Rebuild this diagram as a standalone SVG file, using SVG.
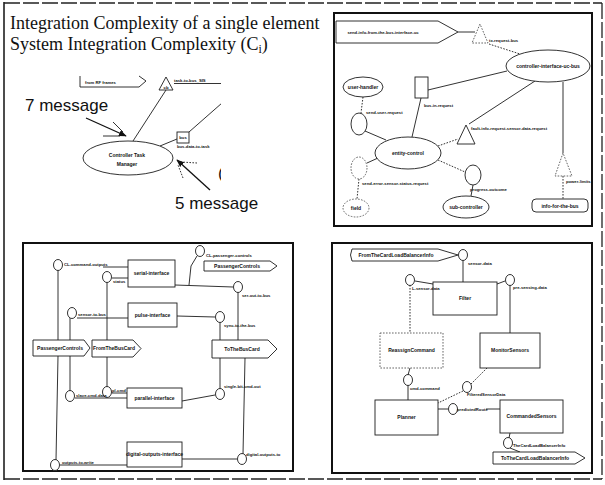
<svg xmlns="http://www.w3.org/2000/svg" width="605" height="485" viewBox="0 0 605 485">
  <defs>
    <style>
      .ln { stroke:#1c1c1c; stroke-width:0.9; fill:none; }
      .dt { stroke-dasharray:1.6 1.4; }
      .nd { fill:#fff; stroke:#1c1c1c; stroke-width:0.9; }
      .nd-dt { fill:#fff; stroke:#555; stroke-width:0.9; stroke-dasharray:1.6 1.4; }
      .frame { fill:none; stroke:#111; stroke-width:2; }
      .border { fill:none; stroke:#222; stroke-width:1.3; stroke-dasharray:16 3; }
      .lb { font-family:"Liberation Sans", Arial, sans-serif; font-size:4.2px; font-weight:bold; fill:#111; }
      .nm { font-family:"Liberation Sans", Arial, sans-serif; font-size:5px; font-weight:bold; fill:#111; text-anchor:middle; }
      .title { font-family:"Liberation Serif", "Times New Roman", serif; font-size:18px; fill:#111; }
      .msg { font-family:"Liberation Sans", Arial, sans-serif; font-size:17px; fill:#111; }
      .arw { stroke:#111; stroke-width:1.3; fill:none; }
    </style>
    <marker id="head" viewBox="0 0 10 10" refX="9" refY="5" markerWidth="6" markerHeight="6" orient="auto">
      <path d="M0,1 L10,5 L0,9 Z" fill="#111"/>
    </marker>
    <clipPath id="clipTL">
      <rect x="0" y="55" width="221" height="170"/>
    </clipPath>
  </defs>

  <!-- page border -->
  <g id="page-border">
    <line x1="4" y1="2" x2="4" y2="480" stroke="#111" stroke-width="1.5"/>
    <line class="border" x1="4" y1="3" x2="602" y2="3"/>
    <line class="border" x1="602" y1="3" x2="602" y2="479"/>
    <line class="border" x1="4" y1="479" x2="602" y2="479"/>
  </g>

  <!-- heading -->
  <g id="heading">
    <text class="title" x="10" y="29">Integration Complexity of a single element</text>
    <text class="title" x="10" y="50">System Integration Complexity  (C<tspan font-size="12" dy="3">i</tspan><tspan dy="-3">)</tspan></text>
  </g>

  <!-- ===== single element view ===== -->
  <g id="single-element" clip-path="url(#clipTL)">
    <g id="tl-connectors">
      <line class="ln" x1="166" y1="90" x2="133" y2="141"/>
      <line class="ln" x1="160" y1="146" x2="177" y2="139"/>
      <line class="ln" x1="189" y1="132" x2="222" y2="103"/>
      <line class="ln" x1="174" y1="83.5" x2="222" y2="83.5"/>
    </g>
    <g id="from-rf-frames">
      <polyline class="ln" points="80,76 80,87 139,87 146,81 139,76"/>
      <text class="lb" x="85" y="83.5">from RF frames</text>
    </g>
    <g id="task-to-bus">
      <polygon class="nd" points="166,77 159,90 173,90"/>
      <text class="lb" x="166" y="88.5" text-anchor="middle" font-size="3.5">cb</text>
      <text class="lb" x="174" y="82">task-to-bus_SIS</text>
    </g>
    <g id="bus-data">
      <rect class="nd" x="177" y="132" width="12" height="11"/>
      <text class="lb" x="183" y="139" text-anchor="middle" font-size="3.5">bus</text>
      <text class="lb" x="177" y="148">bus-data-to-task</text>
    </g>
    <g id="controller-task-manager">
      <ellipse class="nd" cx="128" cy="158" rx="45" ry="17"/>
      <text class="nm" x="127" y="157">Controller Task</text>
      <text class="nm" x="127" y="166">Manager</text>
    </g>
    <text class="msg" x="218" y="179" font-size="9">(</text>
  </g>

  <g id="message-notes">
    <text class="msg" x="25" y="111">7 message</text>
    <line class="arw" x1="86" y1="118" x2="126" y2="136" marker-end="url(#head)"/>
    <line class="ln" x1="113" y1="122" x2="123" y2="132"/>
    <line class="ln" x1="103" y1="136" x2="120" y2="136"/>
    <text class="msg" x="175" y="209">5 message</text>
    <line class="arw" x1="210" y1="190" x2="177" y2="160" marker-end="url(#head)"/>
    <line class="ln dt" x1="197" y1="163" x2="181" y2="162"/>
    <line class="ln dt" x1="183" y1="178" x2="178" y2="165"/>
  </g>

  <!-- ===== bus interface view ===== -->
  <g id="bus-interface-view">
    <rect class="frame" x="334" y="13" width="258" height="213"/>
    <g id="tr-connectors">
      <line class="ln" x1="458" y1="32" x2="475" y2="32"/>
      <line class="ln dt" x1="489" y1="44" x2="520" y2="54"/>
      <line class="ln dt" x1="363" y1="97" x2="361" y2="113"/>
      <line class="ln" x1="365" y1="131" x2="386" y2="140"/>
      <line class="ln" x1="428" y1="90" x2="507" y2="71"/>
      <line class="ln" x1="421" y1="98" x2="412" y2="137"/>
      <line class="ln" x1="469" y1="124" x2="535" y2="81"/>
      <line class="ln dt" x1="438" y1="146" x2="458" y2="139"/>
      <line class="ln" x1="367" y1="163" x2="378" y2="158"/>
      <line class="ln dt" x1="359" y1="179" x2="357" y2="199"/>
      <line class="ln dt" x1="438" y1="160" x2="465" y2="172"/>
      <line class="ln" x1="473" y1="185" x2="471" y2="196"/>
      <line class="ln" x1="563" y1="82" x2="563" y2="153"/>
      <line class="ln dt" x1="563" y1="176" x2="563" y2="199"/>
    </g>
    <g id="send-info-port">
      <polygon class="nd" points="336,21 438,21 458,32 438,43 336,43"/>
      <text class="lb" x="383" y="34" text-anchor="middle">send-info-from-the-bus-interface-uc</text>
    </g>
    <g id="tx-request">
      <polygon class="nd-dt" points="480,24 472,43 488,43"/>
      <text class="lb" x="489" y="42">tx-request-bus</text>
    </g>
    <g id="controller-interface">
      <ellipse class="nd" cx="548" cy="66" rx="42" ry="16"/>
      <text class="nm" x="548" y="68" font-size="4.3">controller-interface-uc-bus</text>
    </g>
    <g id="user-handler">
      <ellipse class="nd" cx="363" cy="87" rx="20" ry="10"/>
      <text class="nm" x="363" y="89" font-size="4.3">user-handler</text>
    </g>
    <g id="send-user-request">
      <ellipse class="nd" cx="359" cy="124" rx="8" ry="11"/>
      <text class="lb" x="366" y="114">send-user-request</text>
    </g>
    <g id="bus-in-request">
      <rect class="nd" x="415" y="77" width="13" height="21"/>
      <text class="lb" x="424" y="107">bus-in-request</text>
    </g>
    <g id="fault-info-request">
      <polygon class="nd" points="466,125 457,144 475,144"/>
      <text class="lb" x="471" y="130">fault-info-request-sensor-data-request</text>
    </g>
    <g id="entity-control">
      <ellipse class="nd" cx="408" cy="153" rx="33" ry="16"/>
      <text class="nm" x="408" y="155" font-size="4.3">entity-control</text>
    </g>
    <g id="send-error">
      <ellipse class="nd-dt" cx="359" cy="168" rx="8" ry="11"/>
      <text class="lb" x="362" y="185">send-error-sensor-status-request</text>
    </g>
    <g id="field">
      <ellipse class="nd-dt" cx="356" cy="208" rx="13" ry="9"/>
      <text class="nm" x="356" y="210" font-size="4.3">field</text>
    </g>
    <g id="progress-outcome">
      <ellipse class="nd" cx="473" cy="175" rx="8" ry="10"/>
      <text class="lb" x="470" y="191">progress-outcome</text>
    </g>
    <g id="sub-controller">
      <ellipse class="nd" cx="466" cy="207" rx="23" ry="11"/>
      <text class="nm" x="466" y="209" font-size="4.3">sub-controller</text>
    </g>
    <g id="power-limits">
      <polygon class="nd-dt" points="563,153 555,176 572,176"/>
      <text class="lb" x="566" y="183">power-limits</text>
    </g>
    <g id="info-for-the-bus">
      <rect class="nd" x="532" y="199" width="56" height="13" rx="4"/>
      <text class="nm" x="560" y="207.5" font-size="4.3">info-for-the-bus</text>
    </g>
  </g>

  <!-- ===== interface card view ===== -->
  <g id="interface-card-view">
    <rect class="frame" x="23" y="243" width="270" height="228"/>
    <g id="bl-connectors">
      <line class="ln" x1="103" y1="267" x2="128" y2="267"/>
      <line class="ln" x1="58" y1="270" x2="58" y2="340"/>
      <line class="ln" x1="58" y1="356" x2="56" y2="460"/>
      <line class="ln" x1="112" y1="278" x2="128" y2="278"/>
      <line class="ln" x1="107" y1="282" x2="107" y2="340"/>
      <line class="ln" x1="107" y1="357" x2="107" y2="387"/>
      <polyline class="ln" points="197,256 191,266 189,285"/>
      <line class="ln" x1="175" y1="285" x2="233" y2="287"/>
      <line class="ln" x1="238" y1="292" x2="238" y2="340"/>
      <line class="ln" x1="77" y1="318" x2="128" y2="318"/>
      <line class="ln" x1="70" y1="318" x2="70" y2="340"/>
      <line class="ln" x1="177" y1="316" x2="215" y2="317"/>
      <line class="ln" x1="220" y1="322" x2="220" y2="340"/>
      <line class="ln" x1="70" y1="356" x2="70" y2="391"/>
      <line class="ln" x1="112" y1="393" x2="127" y2="393"/>
      <line class="ln" x1="75" y1="398" x2="127" y2="398"/>
      <line class="ln" x1="182" y1="401" x2="215" y2="395"/>
      <line class="ln" x1="220" y1="389" x2="220" y2="358"/>
      <line class="ln" x1="245" y1="358" x2="243" y2="454"/>
      <line class="ln" x1="60" y1="465" x2="127" y2="465"/>
      <line class="ln" x1="182" y1="459" x2="237" y2="459"/>
    </g>
    <g id="cl-command-outputs">
      <ellipse class="nd" cx="58" cy="265" rx="4.5" ry="5.5"/>
      <text class="lb" x="64" y="266">CL-command-outputs</text>
    </g>
    <g id="serial-interface">
      <rect class="nd" x="128" y="260" width="47" height="27"/>
      <text class="nm" x="151.5" y="275" font-size="4.3">serial-interface</text>
    </g>
    <g id="status-port">
      <ellipse class="nd" cx="107" cy="277" rx="4.5" ry="5.5"/>
      <text class="lb" x="113" y="283">status</text>
    </g>
    <g id="cl-passenger-controls">
      <ellipse class="nd" cx="200" cy="251" rx="4.5" ry="5.5"/>
      <text class="lb" x="206" y="257">CL-passenger-controls</text>
    </g>
    <g id="passenger-controls-out">
      <polygon class="nd" points="204,261 270,261 277,266 270,271 204,271"/>
      <text class="nm" x="237" y="268" font-size="4.3">PassengerControls</text>
    </g>
    <g id="ser-out-to-bus">
      <ellipse class="nd" cx="238" cy="287" rx="4.5" ry="5.5"/>
      <text class="lb" x="242" y="297">ser-out-to-bus</text>
    </g>
    <g id="pulse-interface">
      <rect class="nd" x="128" y="303" width="49" height="24"/>
      <text class="nm" x="152.5" y="317" font-size="4.3">pulse-interface</text>
    </g>
    <g id="sensor-to-bus">
      <ellipse class="nd" cx="72" cy="313" rx="4.5" ry="5.5"/>
      <text class="lb" x="78" y="316">sensor-to-bus</text>
    </g>
    <g id="sync-to-the-bus">
      <ellipse class="nd" cx="220" cy="317" rx="4.5" ry="5.5"/>
      <text class="lb" x="224" y="327">sync-to-the-bus</text>
    </g>
    <g id="passenger-controls-in">
      <polygon class="nd" points="33,340 84,340 90,348 84,356 33,356"/>
      <text class="nm" x="60" y="350" font-size="4.3">PassengerControls</text>
    </g>
    <g id="from-the-bus-card">
      <polygon class="nd" points="92,340 133,340 141,348.5 133,357 92,357"/>
      <text class="nm" x="114" y="350" font-size="4.3">FromTheBusCard</text>
    </g>
    <g id="to-the-bus-card">
      <polygon class="nd" points="212,340 268,340 277,349 268,358 212,358"/>
      <text class="nm" x="242" y="351" font-size="4.3">ToTheBusCard</text>
    </g>
    <g id="parallel-interface">
      <rect class="nd" x="127" y="388" width="55" height="20"/>
      <text class="nm" x="154.5" y="400" font-size="4.3">parallel-interface</text>
    </g>
    <g id="pl-cmd">
      <ellipse class="nd" cx="107" cy="392" rx="4.5" ry="5.5"/>
      <text class="lb" x="112" y="392">pl-cmd</text>
    </g>
    <g id="slave-cmd-data">
      <ellipse class="nd" cx="70" cy="396" rx="4.5" ry="5.5"/>
      <text class="lb" x="76" y="397">slave-cmd-data</text>
    </g>
    <g id="single-bit-cmd-out">
      <ellipse class="nd" cx="220" cy="394" rx="4.5" ry="5.5"/>
      <text class="lb" x="224" y="388">single-bit-cmd-out</text>
    </g>
    <g id="digital-outputs-interface">
      <rect class="nd" x="127" y="442" width="55" height="25"/>
      <text class="nm" x="154.5" y="456" font-size="4.3">digital-outputs-interface</text>
    </g>
    <g id="outputs-to-write">
      <ellipse class="nd" cx="55" cy="465" rx="4.5" ry="5.5"/>
      <text class="lb" x="62" y="464">outputs-to-write</text>
    </g>
    <g id="digital-outputs-to">
      <ellipse class="nd" cx="242" cy="459" rx="4.5" ry="5.5"/>
      <text class="lb" x="246" y="456">digital-outputs-to</text>
    </g>
  </g>

  <!-- ===== load balancer view ===== -->
  <g id="load-balancer-view">
    <rect class="frame" x="332" y="243" width="260" height="230" stroke-width="1.6"/>
    <g id="br-connectors">
      <line class="ln" x1="463" y1="260" x2="463" y2="282"/>
      <line class="ln" x1="415" y1="281" x2="433" y2="284"/>
      <line class="ln dt" x1="410" y1="285" x2="410" y2="333"/>
      <line class="ln" x1="497" y1="284" x2="505" y2="281"/>
      <line class="ln" x1="510" y1="285" x2="510" y2="333"/>
      <line class="ln" x1="410" y1="368" x2="408" y2="375"/>
      <line class="ln" x1="408" y1="385" x2="408" y2="400"/>
      <line class="ln dt" x1="487" y1="368" x2="471" y2="384"/>
      <line class="ln dt" x1="463" y1="391" x2="438" y2="403"/>
      <line class="ln" x1="438" y1="409" x2="448" y2="409"/>
      <line class="ln" x1="486" y1="409" x2="500" y2="409"/>
      <line class="ln" x1="510" y1="433" x2="509" y2="438"/>
      <line class="ln" x1="510" y1="448" x2="520" y2="452"/>
    </g>
    <g id="from-card-lb-info">
      <path class="nd" d="M352,249 H438 L458,255 L438,261 H352 Q349,255 352,249 Z"/>
      <text class="nm" x="396" y="257" font-size="4.3">FromTheCardLoadBalancerInfo</text>
    </g>
    <g id="sensor-data">
      <ellipse class="nd" cx="463" cy="255" rx="4.5" ry="5.5"/>
      <text class="lb" x="468" y="265">sensor-data</text>
    </g>
    <g id="filter">
      <rect class="nd" x="433" y="282" width="64" height="33"/>
      <text class="nm" x="465" y="300">Filter</text>
    </g>
    <g id="l-sensor-data">
      <ellipse class="nd" cx="410" cy="280" rx="4.5" ry="5.5"/>
      <text class="lb" x="412" y="290">L-sensor-data</text>
    </g>
    <g id="pre-sensing-data">
      <ellipse class="nd" cx="510" cy="280" rx="4.5" ry="5.5"/>
      <text class="lb" x="513" y="289">pre-sensing-data</text>
    </g>
    <g id="reassign-command">
      <rect class="nd-dt" x="380" y="333" width="63" height="35"/>
      <text class="nm" x="411.5" y="352" font-size="4.5">ReassignCommand</text>
    </g>
    <g id="monitor-sensors">
      <rect class="nd" x="480" y="333" width="60" height="35"/>
      <text class="nm" x="510" y="352" font-size="4.5">MonitorSensors</text>
    </g>
    <g id="cmd-command">
      <ellipse class="nd" cx="408" cy="380" rx="4.5" ry="5.5"/>
      <text class="lb" x="410" y="390">cmd-command</text>
    </g>
    <g id="filtered-sensor-data">
      <ellipse class="nd" cx="467" cy="387" rx="4.5" ry="5.5"/>
      <text class="lb" x="467" y="396">FilteredSensorData</text>
    </g>
    <g id="planner">
      <rect class="nd" x="375" y="400" width="63" height="35"/>
      <text class="nm" x="406.5" y="419" font-size="4.5">Planner</text>
    </g>
    <g id="predicted-route">
      <ellipse class="nd" cx="453" cy="409" rx="4.5" ry="5.5"/>
      <text class="lb" x="457" y="411">predictedRoute</text>
    </g>
    <g id="commanded-sensors">
      <rect class="nd" x="500" y="400" width="63" height="33"/>
      <text class="nm" x="531.5" y="418" font-size="4.5">CommandedSensors</text>
    </g>
    <g id="to-card-lb-port">
      <ellipse class="nd" cx="508" cy="443" rx="4.5" ry="5.5"/>
      <text class="lb" x="513" y="447">TheCardLoadBalancerInfo</text>
    </g>
    <g id="to-card-lb-info">
      <polygon class="nd" points="493,452 575,452 585,458 575,464 493,464"/>
      <text class="nm" x="535" y="460" font-size="4.3">ToTheCardLoadBalancerInfo</text>
    </g>
  </g>
</svg>
